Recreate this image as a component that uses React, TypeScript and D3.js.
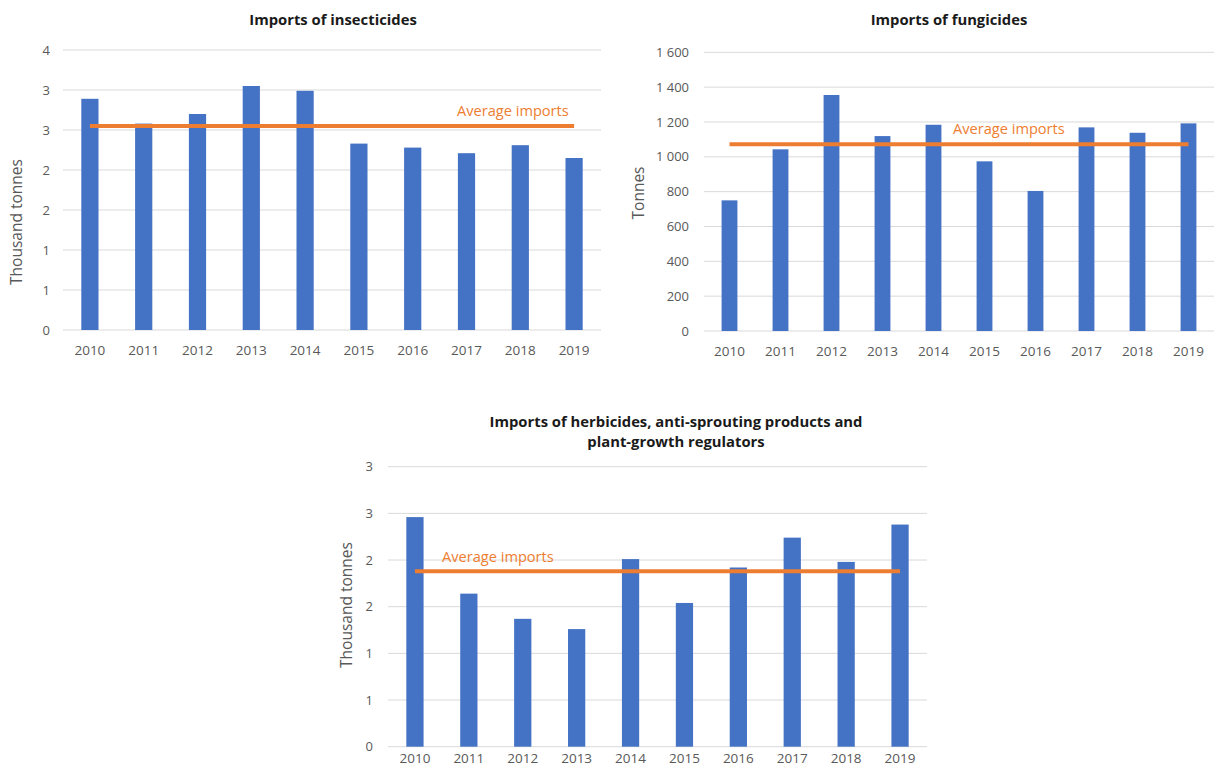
import React from "react";
import * as d3 from "d3";

const years = ["2010", "2011", "2012", "2013", "2014", "2015", "2016", "2017", "2018", "2019"];

const insecticides = [2.89, 2.58, 2.7, 3.05, 2.99, 2.33, 2.28, 2.21, 2.31, 2.15];
const fungicides = [750, 1043, 1355, 1119, 1184, 974, 804, 1169, 1138, 1192];
const herbicides = [2.46, 1.64, 1.37, 1.26, 2.01, 1.54, 1.92, 2.24, 1.98, 2.38];

const insectTicks = [0, 0.5, 1, 1.5, 2, 2.5, 3, 3.5];
const insectTickLabels = ["0", "1", "1", "2", "2", "3", "3", "4"];
const fungTicks = [0, 200, 400, 600, 800, 1000, 1200, 1400, 1600];
const fungTickLabels = ["0", "200", "400", "600", "800", "1 000", "1 200", "1 400", "1 600"];
const herbTicks = [0, 0.5, 1, 1.5, 2, 2.5, 3];
const herbTickLabels = ["0", "1", "1", "2", "2", "3", "3"];

const FONT = "'Open Sans', 'Liberation Sans', sans-serif";
const BAR = "#4472C4";
const AVG = "#ED7D31";
const GRID = "#D9D9D9";
const TXT = "#595959";

type Spec = {
  values: number[];
  ticks: number[];
  tickLabels: string[];
  yMax: number;
  x0: number;
  x1: number;
  yBottom: number;
  yTop: number;
  labelRight: number;
  titleLines: string[];
  titleX: number;
  titleY: number;
  axisTitle: string;
  axisTitleX: number;
  axisTitleY: number;
  xLabelY: number;
  avgLabelX: number;
  avgLabelY: number;
  padInner: number;
};

function BarChart({ s }: { s: Spec }) {
  const x = d3
    .scaleBand<string>()
    .domain(years)
    .range([s.x0, s.x1])
    .paddingInner(s.padInner)
    .paddingOuter(s.padInner / 2);
  const y = d3.scaleLinear().domain([0, s.yMax]).range([s.yBottom, s.yTop]);
  const avg = d3.mean(s.values) as number;
  const first = (x(years[0]) as number) + x.bandwidth() / 2;
  const last = (x(years[years.length - 1]) as number) + x.bandwidth() / 2;
  return (
    <g fontFamily={FONT}>
      {s.titleLines.map((t, i) => (
        <text
          key={t}
          x={s.titleX}
          y={s.titleY + i * 20}
          textAnchor="middle"
          fontWeight="bold"
          fontSize={14.8}
          fill="#1a1a1a"
        >
          {t}
        </text>
      ))}
      {s.ticks.map((t, i) => (
        <g key={t}>
          <line x1={s.x0} x2={s.x1} y1={y(t)} y2={y(t)} stroke={GRID} strokeWidth={1} />
          <text x={s.labelRight} y={y(t)} dy="0.35em" textAnchor="end" fontSize={13} fill={TXT}>
            {s.tickLabels[i]}
          </text>
        </g>
      ))}
      {s.values.map((v, i) => (
        <rect
          key={years[i]}
          x={x(years[i])}
          width={x.bandwidth()}
          y={y(v)}
          height={y(0) - y(v)}
          fill={BAR}
        />
      ))}
      {years.map((yr) => (
        <text
          key={yr}
          x={(x(yr) as number) + x.bandwidth() / 2}
          y={s.xLabelY}
          textAnchor="middle"
          fontSize={13.5}
          fill={TXT}
        >
          {yr}
        </text>
      ))}
      <line x1={first} x2={last} y1={y(avg)} y2={y(avg)} stroke={AVG} strokeWidth={4} />
      <text x={s.avgLabelX} y={s.avgLabelY} fontSize={14.6} fill={AVG}>
        Average imports
      </text>
      <text
        transform={`translate(${s.axisTitleX},${s.axisTitleY}) rotate(-90)`}
        textAnchor="middle"
        dy="0.35em"
        fontSize={15.5}
        fill={TXT}
      >
        {s.axisTitle}
      </text>
    </g>
  );
}

const specs: Spec[] = [
  {
    values: insecticides,
    ticks: insectTicks,
    tickLabels: insectTickLabels,
    yMax: 3.5,
    x0: 63,
    x1: 601,
    yBottom: 330,
    yTop: 50,
    labelRight: 50,
    titleLines: ["Imports of insecticides"],
    titleX: 333,
    titleY: 25,
    axisTitle: "Thousand tonnes",
    axisTitleX: 17,
    axisTitleY: 222,
    xLabelY: 355,
    avgLabelX: 457,
    avgLabelY: 116,
    padInner: 0.68,
  },
  {
    values: fungicides,
    ticks: fungTicks,
    tickLabels: fungTickLabels,
    yMax: 1600,
    x0: 704,
    x1: 1214,
    yBottom: 331,
    yTop: 52.3,
    labelRight: 689,
    titleLines: ["Imports of fungicides"],
    titleX: 949,
    titleY: 25,
    axisTitle: "Tonnes",
    axisTitleX: 639,
    axisTitleY: 193,
    xLabelY: 356,
    avgLabelX: 953,
    avgLabelY: 134,
    padInner: 0.69,
  },
  {
    values: herbicides,
    ticks: herbTicks,
    tickLabels: herbTickLabels,
    yMax: 3,
    x0: 388,
    x1: 927,
    yBottom: 746.7,
    yTop: 466.7,
    labelRight: 373,
    titleLines: ["Imports of herbicides, anti-sprouting products and", "plant-growth regulators"],
    titleX: 676,
    titleY: 427,
    axisTitle: "Thousand tonnes",
    axisTitleX: 347,
    axisTitleY: 605,
    xLabelY: 763,
    avgLabelX: 442,
    avgLabelY: 562,
    padInner: 0.68,
  },
];

export default function App() {
  return (
    <svg
      width={1214}
      height={774}
      style={{ position: "absolute", left: 0, top: 0, background: "#fff" }}
    >
      <rect width={1214} height={774} fill="#fff" />
      {specs.map((s, i) => (
        <BarChart key={i} s={s} />
      ))}
    </svg>
  );
}
